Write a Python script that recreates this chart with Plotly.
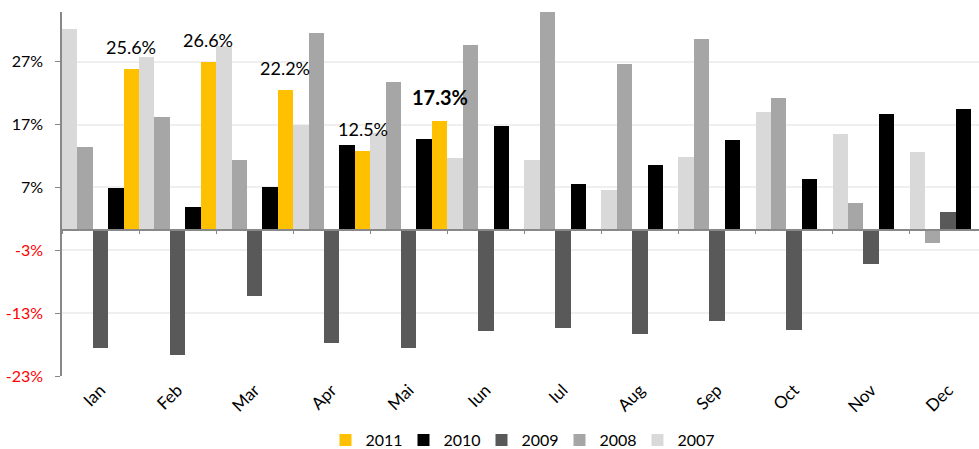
import plotly.graph_objects as go

months = ["Ian", "Feb", "Mar", "Apr", "Mai", "Iun", "Iul", "Aug", "Sep", "Oct", "Nov", "Dec"]

v2007 = [31.9, 27.5, 29.2, 16.7, 15.4, 11.3, 11.0, 6.3, 11.6, 18.7, 15.2, 12.3]
v2008 = [13.2, 17.9, 11.05, 31.2, 23.4, 29.3, 35.5, 26.4, 30.3, 21.0, 4.2, -2.1]
v2009 = [-18.9, -20.0, -10.5, -18.1, -18.8, -16.1, -15.7, -16.6, -14.6, -16.0, -5.5, 2.8]
v2010 = [6.6, 3.6, 6.8, 13.5, 14.4, 16.4, 7.2, 10.2, 14.2, 8.0, 18.4, 19.1]
v2011 = [25.6, 26.6, 22.2, 12.5, 17.3, None, None, None, None, None, None, None]
labels2011 = ["25.6%", "26.6%", "22.2%", "12.5%", "17.3%"]
highlight_idx = 4

tick_vals = [-23.3, -13.3, -3.3, 6.7, 16.7, 26.7]
tick_text = ["-23%", "-13%", "-3%", "7%", "17%", "27%"]

series = [
    ("2007", v2007, "#D9D9D9"),
    ("2008", v2008, "#A6A6A6"),
    ("2009", v2009, "#595959"),
    ("2010", v2010, "#000000"),
    ("2011", v2011, "#FFC000"),
]

FONT = "Lato"
y_min, y_max = -23.3, 34.6
x_range = [-0.5, 11.4]

fig = go.Figure()
for name, vals, col in series:
    fig.add_trace(go.Bar(
        x=months, y=vals, name=name,
        marker=dict(color=col, line=dict(width=0)),
        hoverinfo="skip",
    ))

# helper invisible trace on overlay axis (zero-line axis with boundary ticks)
fig.add_trace(go.Scatter(x=months, y=[None] * len(months), xaxis="x2", yaxis="y",
                         showlegend=False, hoverinfo="skip", mode="markers"))

ticktext_col = []
for v, t in zip(tick_vals, tick_text):
    if v < 0:
        ticktext_col.append('<span style="color:#FF0000">%s</span>' % t)
    else:
        ticktext_col.append(t)

annotations = []
for i, lab in enumerate(labels2011):
    bold = (i == highlight_idx)
    annotations.append(dict(
        x=i + 0.4, y=v2011[i], xref="x", yref="y",
        text=("<b>%s</b>" % lab) if bold else lab,
        showarrow=False, yshift=24 if bold else 22,
        font=dict(family=FONT, size=20 if bold else 18, color="#000000"),
    ))

zero_pos = (0 - y_min) / (y_max - y_min)

fig.update_layout(
    width=979, height=449,
    margin=dict(l=62, r=0, t=12, b=73, autoexpand=False),
    paper_bgcolor="white", plot_bgcolor="white",
    barmode="group", bargap=0, bargroupgap=0,
    font=dict(family=FONT, size=16, color="#000000"),
    showlegend=True,
    legend=dict(orientation="h", x=0.5, xanchor="center", y=-0.176, yanchor="middle",
                traceorder="reversed", font=dict(family=FONT, size=16),
                itemwidth=30, entrywidth=33, entrywidthmode="pixels",
                bgcolor="rgba(0,0,0,0)"),
    xaxis=dict(
        type="category", categoryorder="array", categoryarray=months, automargin=False,
        range=x_range, showline=False, ticks="", showgrid=False, zeroline=False,
        tickangle=-45, tickfont=dict(family=FONT, size=17, color="#000000"),
    ),
    xaxis2=dict(
        type="category", categoryorder="array", categoryarray=months, automargin=False,
        range=x_range, overlaying="x", anchor="free", position=zero_pos,
        showline=True, linecolor="#888888", linewidth=1.5,
        ticks="outside", tickson="boundaries", ticklen=4, tickcolor="#888888",
        showticklabels=False, showgrid=False, zeroline=False,
    ),
    yaxis=dict(
        range=[y_min, y_max], tickvals=tick_vals, ticktext=ticktext_col, automargin=False,
        showline=True, linecolor="#888888", linewidth=1.5,
        ticks="outside", ticklen=5, tickcolor="#888888", ticklabelstandoff=9,
        showgrid=True, gridcolor="#EFEFEF", gridwidth=2,
        zeroline=False, tickfont=dict(family=FONT, size=16, color="#000000"),
    ),
    annotations=annotations,
)

fig.write_html("out.html", config={"displayModeBar": False},
               post_script="document.body.style.margin='0';document.body.style.overflow='hidden';")
